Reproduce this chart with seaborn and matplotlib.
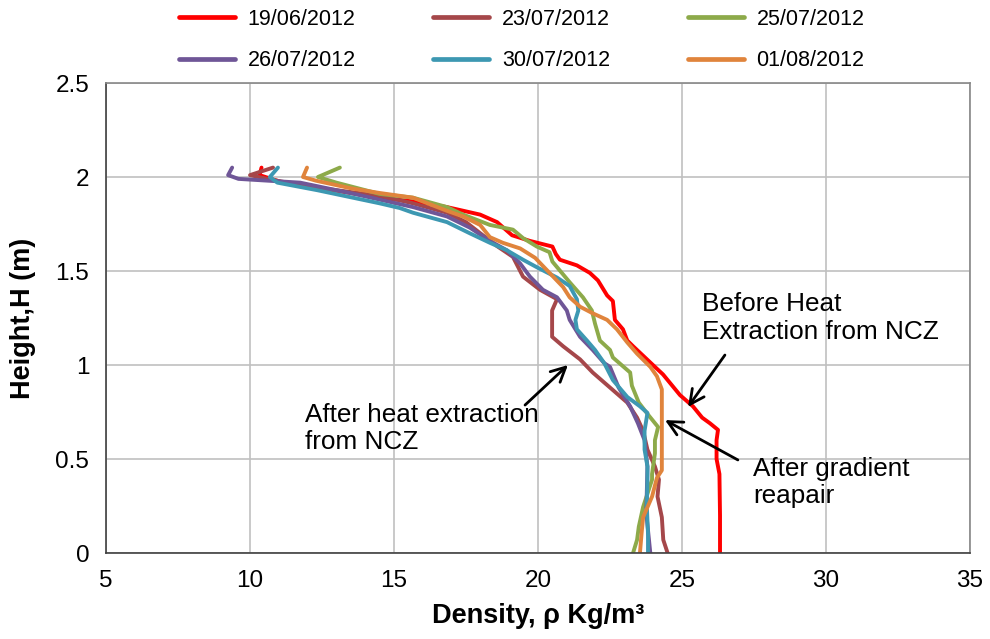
import matplotlib
matplotlib.use("Agg")
import matplotlib.pyplot as plt
import seaborn as sns
import pandas as pd

# Density profiles (x = density, y = height), listed from the surface downwards
dates = ["19/06/2012", "23/07/2012", "25/07/2012", "26/07/2012", "30/07/2012", "01/08/2012"]
colors = ["#FF0000", "#A5474A", "#8DAA4A", "#6F5697", "#3D98B2", "#E0843C"]

rho_1906 = [10.40, 10.33, 11.15, 12.88, 14.51, 15.66, 16.84, 17.99, 18.58, 19.10, 19.72, 20.50,
            20.62, 20.76, 21.35, 21.80, 22.08, 22.40, 22.60, 22.67, 22.95, 23.10, 23.30, 24.13,
            24.34, 24.93, 25.38, 25.70, 25.97, 26.25, 26.20, 26.20, 26.30, 26.32, 26.32]
h_1906 = [2.05, 2.01, 1.97, 1.93, 1.89, 1.87, 1.84, 1.80, 1.76, 1.69, 1.66, 1.63,
          1.59, 1.56, 1.53, 1.49, 1.45, 1.37, 1.34, 1.24, 1.19, 1.13, 1.10, 0.98,
          0.95, 0.84, 0.78, 0.72, 0.69, 0.655, 0.60, 0.50, 0.42, 0.20, 0.0]

rho_2307 = [10.80, 10.00, 10.60, 12.00, 14.50, 15.66, 16.84, 17.50, 18.00, 18.60, 19.13, 19.48,
            20.07, 20.66, 20.49, 20.49, 20.87, 21.46, 21.90, 22.50, 23.10, 23.44, 23.65, 23.80,
            24.06, 24.20, 24.15, 24.30, 24.35, 24.50]
h_2307 = [2.05, 2.01, 1.99, 1.95, 1.90, 1.86, 1.81, 1.76, 1.70, 1.63, 1.575, 1.47,
          1.40, 1.35, 1.29, 1.15, 1.10, 1.03, 0.96, 0.88, 0.80, 0.72, 0.65, 0.55,
          0.46, 0.39, 0.30, 0.19, 0.07, 0.0]

rho_2507 = [13.12, 12.36, 13.00, 14.50, 15.66, 16.84, 17.40, 18.33, 19.13, 19.48, 19.96, 20.40,
            20.50, 21.10, 21.56, 21.87, 21.98, 22.15, 22.50, 22.60, 23.20, 23.26, 23.50, 23.80,
            24.17, 24.06, 24.06, 23.96, 23.96, 23.65, 23.50, 23.44, 23.30]
h_2507 = [2.05, 2.00, 1.97, 1.91, 1.89, 1.84, 1.80, 1.745, 1.72, 1.675, 1.63, 1.60,
          1.55, 1.44, 1.36, 1.29, 1.22, 1.13, 1.08, 1.04, 0.96, 0.89, 0.80, 0.74,
          0.67, 0.60, 0.53, 0.42, 0.39, 0.245, 0.14, 0.07, 0.0]

rho_2607 = [9.38, 9.24, 9.60, 11.74, 13.47, 14.50, 15.66, 16.84, 17.64, 18.33, 18.92, 19.38,
            19.72, 20.17, 20.66, 21.00, 21.10, 21.46, 21.90, 22.30, 22.50, 22.80, 23.20, 23.47,
            23.70, 23.80, 23.76, 23.90]
h_2607 = [2.05, 2.01, 1.99, 1.97, 1.915, 1.88, 1.84, 1.79, 1.73, 1.66, 1.61, 1.54,
          1.47, 1.40, 1.36, 1.29, 1.24, 1.15, 1.08, 1.01, 0.99, 0.88, 0.78, 0.69,
          0.60, 0.46, 0.21, 0.0]

rho_3007 = [10.97, 10.69, 10.95, 12.33, 14.50, 15.20, 15.66, 16.84, 17.64, 18.33, 18.92, 19.48,
            19.96, 20.66, 21.10, 21.35, 21.40, 21.30, 21.35, 21.70, 21.98, 22.30, 22.60, 23.10,
            23.54, 23.80, 23.70, 23.70, 23.80, 23.80, 23.78, 23.82, 23.82]
h_3007 = [2.05, 2.00, 1.97, 1.93, 1.86, 1.835, 1.81, 1.76, 1.70, 1.65, 1.61, 1.56,
          1.52, 1.465, 1.42, 1.35, 1.29, 1.24, 1.19, 1.13, 1.08, 1.01, 0.92, 0.83,
          0.78, 0.745, 0.65, 0.55, 0.46, 0.39, 0.245, 0.10, 0.0]

rho_0108 = [11.98, 11.84, 12.30, 13.50, 14.50, 15.66, 16.84, 17.40, 17.99, 18.33, 18.78, 19.38,
            19.90, 20.40, 20.87, 21.10, 21.46, 21.90, 22.40, 22.74, 23.10, 23.44, 23.90, 24.13,
            24.30, 24.30, 24.13, 23.96, 23.65, 23.60, 23.54]
h_0108 = [2.05, 2.00, 1.98, 1.94, 1.915, 1.89, 1.82, 1.79, 1.745, 1.68, 1.65, 1.62,
          1.57, 1.49, 1.415, 1.36, 1.31, 1.275, 1.24, 1.19, 1.12, 1.06, 0.99, 0.94,
          0.87, 0.44, 0.40, 0.30, 0.19, 0.11, 0.0]

x_ticks = [5, 10, 15, 20, 25, 30, 35]
y_ticks = [0, 0.5, 1, 1.5, 2, 2.5]
y_tick_labels = ["0", "0.5", "1", "1.5", "2", "2.5"]

profiles = {
    "19/06/2012": (rho_1906, h_1906),
    "23/07/2012": (rho_2307, h_2307),
    "25/07/2012": (rho_2507, h_2507),
    "26/07/2012": (rho_2607, h_2607),
    "30/07/2012": (rho_3007, h_3007),
    "01/08/2012": (rho_0108, h_0108),
}

frames = []
for d, (rho, h) in profiles.items():
    frames.append(pd.DataFrame({"density": rho, "height": h, "date": d}))
df = pd.concat(frames, ignore_index=True)

sns.set_theme(style="white")
plt.rcParams["font.family"] = ["Liberation Sans", "DejaVu Sans"]
plt.rcParams["text.color"] = "black"
plt.rcParams["axes.labelcolor"] = "black"

fig = plt.figure(figsize=(9.9, 6.39), dpi=100)
ax = fig.add_axes([106 / 990, 1 - 553 / 639, 864 / 990, 470 / 639])

sns.lineplot(data=df, x="density", y="height", hue="date", hue_order=dates,
             palette=dict(zip(dates, colors)), sort=False, estimator=None,
             linewidth=2.8, ax=ax, legend=True)

ax.set_xlim(5, 35)
ax.set_ylim(0, 2.5)
ax.set_xticks(x_ticks)
ax.set_xticklabels([str(t) for t in x_ticks])
ax.set_yticks(y_ticks)
ax.set_yticklabels(y_tick_labels)
ax.grid(True, color="#C0C0C0", linewidth=1.2)
ax.set_axisbelow(True)
ax.tick_params(axis="both", labelsize=17.5, colors="black", length=0)
ax.tick_params(axis="x", pad=12)
ax.tick_params(axis="y", pad=12)
for side in ["top", "right"]:
    ax.spines[side].set_color("#888888")
    ax.spines[side].set_linewidth(1.2)
for side in ["left", "bottom"]:
    ax.spines[side].set_color("#404040")
    ax.spines[side].set_linewidth(1.2)

ax.set_xlabel("Density, ρ Kg/m³", fontsize=19.5, fontweight="bold", labelpad=8)
ax.set_ylabel("Height,H (m)", fontsize=19.5, fontweight="bold", labelpad=14)

# legend in two rows of three above the plot
handles, labels = ax.get_legend_handles_labels()
ax.get_legend().remove()
lut = dict(zip(labels, handles))
order = ["19/06/2012", "26/07/2012", "23/07/2012", "30/07/2012", "25/07/2012", "01/08/2012"]
leg = fig.legend([lut[k] for k in order], order, loc="upper left", ncol=3,
                 bbox_to_anchor=(170 / 990, 1.0), frameon=False, fontsize=15.5,
                 handlelength=2.6, handletextpad=0.6, columnspacing=3.6,
                 labelspacing=0.95, borderaxespad=0.2, borderpad=0.2)
for line in leg.get_lines():
    line.set_linewidth(3.4)

# annotations: text blocks and arrows pointing at the profiles
note_size = 18.8
ax.text(11.91, 0.662, "After heat extraction\nfrom NCZ", fontsize=note_size,
        ha="left", va="center", linespacing=1.2, multialignment="left")
ax.text(25.69, 1.25, "Before Heat\nExtraction from NCZ", fontsize=note_size,
        ha="left", va="center", linespacing=1.2, multialignment="left")
ax.text(27.47, 0.375, "After gradient\nreapair", fontsize=note_size,
        ha="left", va="center", linespacing=1.2, multialignment="left")

arrow = dict(arrowstyle="->", color="black", lw=2.0, mutation_scale=26,
             shrinkA=0, shrinkB=0)
ax.annotate("", xy=(21.04, 1.0), xytext=(19.55, 0.787), arrowprops=arrow)
ax.annotate("", xy=(25.21, 0.777), xytext=(26.49, 1.053), arrowprops=arrow)
ax.annotate("", xy=(24.41, 0.707), xytext=(26.94, 0.495), arrowprops=arrow)

fig.savefig("out.png", dpi=100)
